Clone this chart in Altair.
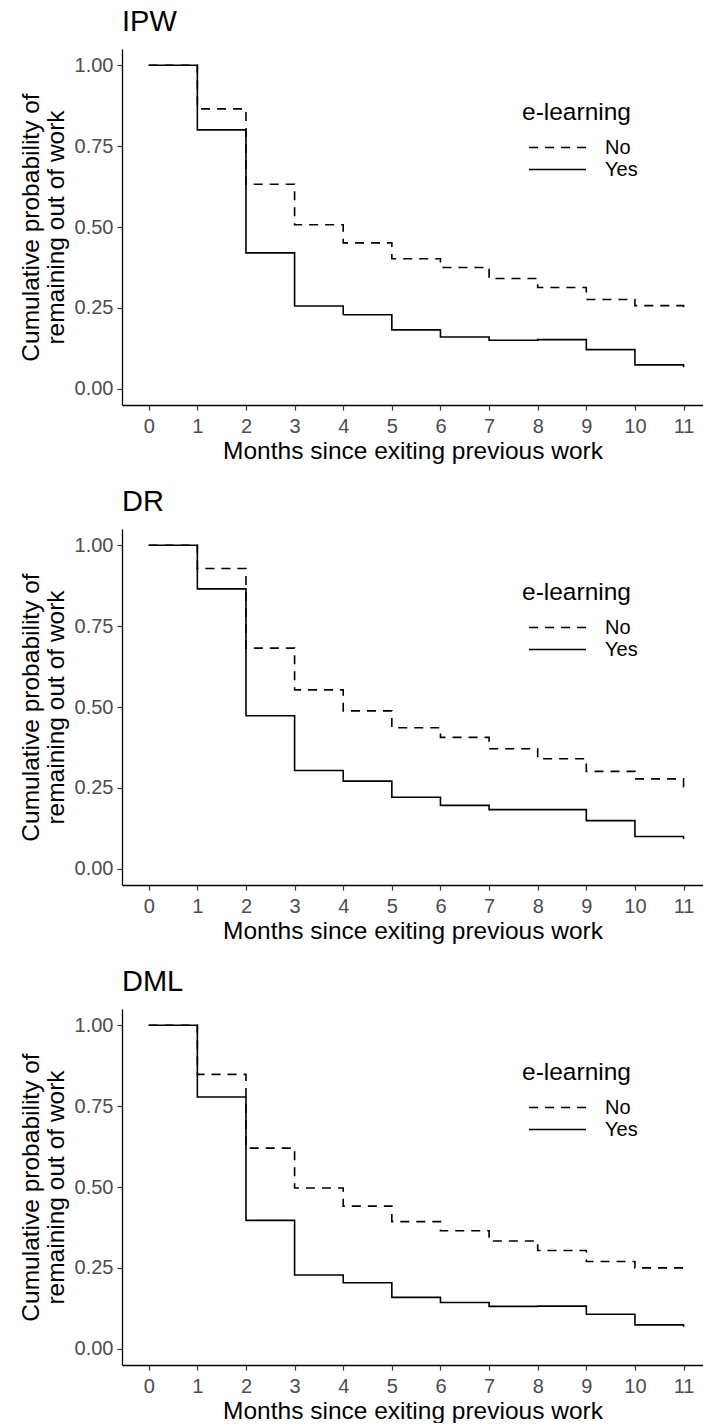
import altair as alt
import pandas as pd

months = list(range(12))
groups = ["No", "Yes"]
panel_names = ["IPW", "DR", "DML"]

ipw_no = [1.0, 0.865, 0.632, 0.507, 0.451, 0.402, 0.375, 0.341, 0.313, 0.276, 0.257, 0.236]
ipw_yes = [1.0, 0.800, 0.420, 0.256, 0.229, 0.182, 0.160, 0.150, 0.152, 0.121, 0.074, 0.067]
dr_no = [1.0, 0.928, 0.682, 0.553, 0.488, 0.436, 0.406, 0.371, 0.340, 0.301, 0.278, 0.250]
dr_yes = [1.0, 0.865, 0.473, 0.304, 0.271, 0.221, 0.196, 0.183, 0.183, 0.149, 0.100, 0.092]
dml_no = [1.0, 0.848, 0.620, 0.497, 0.441, 0.393, 0.365, 0.333, 0.304, 0.270, 0.250, 0.235]
dml_yes = [1.0, 0.778, 0.397, 0.228, 0.204, 0.159, 0.143, 0.131, 0.132, 0.107, 0.074, 0.068]

y_ticks = [0.0, 0.25, 0.5, 0.75, 1.0]
FONT = "Liberation Sans"


def panel(name, no_vals, yes_vals):
    df = pd.DataFrame({
        "month": months + months,
        "prob": no_vals + yes_vals,
        "elearn": ["No"] * len(months) + ["Yes"] * len(months),
    })
    return alt.Chart(df).mark_line(
        interpolate="step-after", color="black", strokeWidth=1.6, clip=True
    ).encode(
        x=alt.X("month:Q",
                scale=alt.Scale(domain=[-0.55, 11.4], nice=False, zero=False),
                axis=alt.Axis(values=months, format="d",
                              title="Months since exiting previous work",
                              labelPadding=6, titlePadding=3)),
        y=alt.Y("prob:Q",
                scale=alt.Scale(domain=[-0.05, 1.05], nice=False, zero=False),
                axis=alt.Axis(values=y_ticks, format=".2f",
                              title=["Cumulative probability of", "remaining out of work"],
                              titleLineHeight=25, labelPadding=4, titlePadding=6)),
        strokeDash=alt.StrokeDash(
            "elearn:N",
            scale=alt.Scale(domain=groups, range=[[9, 7], [1, 0]]),
            legend=alt.Legend(
                title="e-learning", orient="none", legendX=400, legendY=52,
                symbolType="stroke", symbolSize=3249, symbolStrokeWidth=1.6,
                symbolStrokeColor="black", symbolOffset=6, labelOffset=18,
                titlePadding=11, rowPadding=0, clipHeight=22, padding=0,
                titleFont=FONT, titleFontSize=24.5, titleFontWeight="normal",
                titleColor="black", labelFont=FONT, labelFontSize=20,
                labelColor="black")),
    ).properties(
        width=581, height=356,
        title=alt.TitleParams(name, anchor="start", frame="group", font=FONT,
                              fontSize=29, fontWeight="normal", color="black",
                              offset=12),
    )


chart = alt.vconcat(
    panel(panel_names[0], ipw_no, ipw_yes),
    panel(panel_names[1], dr_no, dr_yes),
    panel(panel_names[2], dml_no, dml_yes),
    spacing=25,
).resolve_legend(
    strokeDash="independent"
).properties(
    padding={"left": 18, "top": 8, "right": 0, "bottom": 0},
    background="white",
).configure_view(stroke=None).configure_axis(
    grid=False,
    domainColor="black", domainWidth=1.3,
    tickColor="#333333", tickWidth=1.2, tickSize=5,
    labelFont=FONT, labelFontSize=20, labelColor="#4D4D4D",
    titleFont=FONT, titleFontSize=24.5, titleFontWeight="normal", titleColor="black",
)

chart.save("out.html", embed_options={"renderer": "svg", "actions": False})
